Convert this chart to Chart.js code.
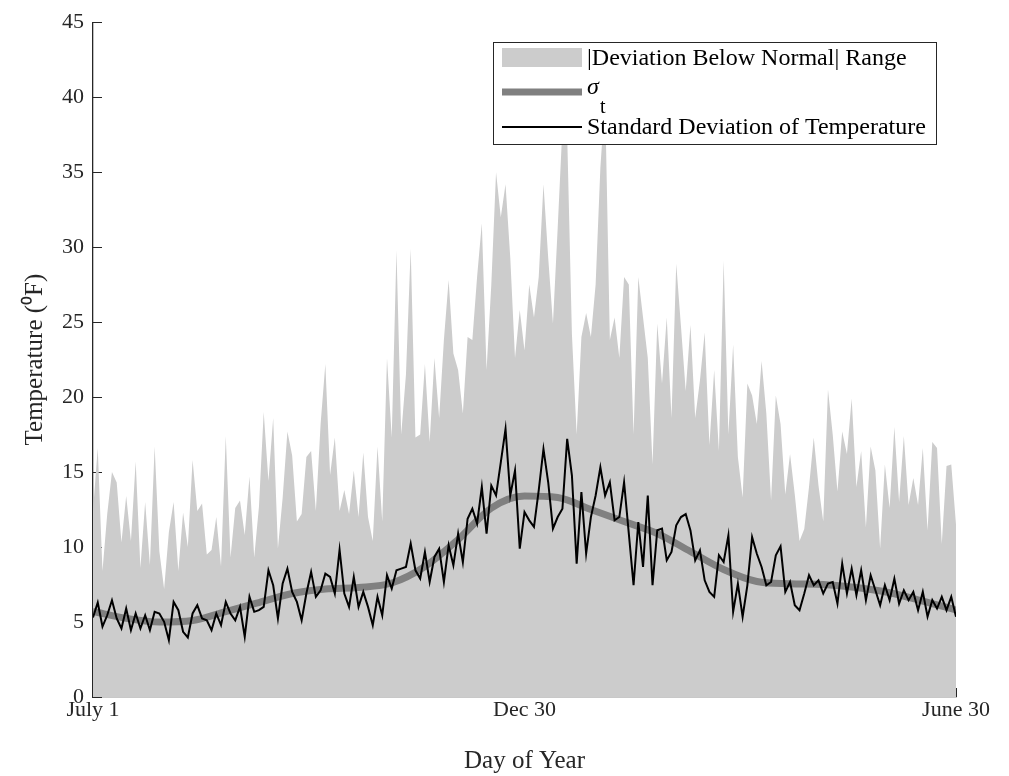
<!DOCTYPE html>
<html>
<head>
<meta charset="utf-8">
<script src="https://cdn.jsdelivr.net/npm/chart.js@4.4.0/dist/chart.umd.min.js"></script>
<style>
  html, body { margin: 0; padding: 0; background: #fff; }
  canvas { display: block; }
</style>
</head>
<body>
<canvas id="chart" width="1009" height="776"></canvas>
<script>
// day 0 = July 1, day 364 = June 30
const xTickDays = [0, 182, 364];
const xTickLabels = ['July 1', 'Dec 30', 'June 30'];
const yTicks = [0, 5, 10, 15, 20, 25, 30, 35, 40, 45];

// |deviation below normal| range, one value every 2 days
const rangeStep = 2;
const rangeVals = [
  12.4, 16.6, 8.4, 12.2, 15.0, 14.3, 10.3, 13.4, 10.4, 15.7,
  8.6, 13.0, 8.8, 16.7, 9.7, 7.2, 11.0, 13.0, 8.4, 12.3,
  10.0, 15.8, 12.4, 12.9, 9.5, 9.8, 12.0, 8.7, 17.4, 9.3,
  12.6, 13.1, 10.8, 14.7, 9.3, 12.7, 19.0, 14.4, 18.6, 9.9,
  13.3, 17.7, 16.1, 11.7, 12.2, 16.0, 16.4, 12.4, 18.2, 22.2,
  14.8, 17.3, 12.4, 13.8, 12.2, 15.1, 12.0, 16.3, 12.0, 10.4,
  16.7, 11.7, 22.6, 17.3, 29.8, 17.5, 21.5, 29.9, 17.3, 17.5,
  22.2, 17.0, 22.6, 18.6, 23.8, 27.8, 22.9, 21.8, 18.9, 24.0,
  23.8, 28.0, 31.6, 21.8, 27.5, 35.0, 32.0, 34.2, 29.3, 22.6,
  25.8, 23.1, 27.5, 25.3, 28.0, 34.2, 29.3, 24.9, 31.3, 38.0,
  37.5, 24.2, 17.5, 24.0, 25.6, 24.0, 27.5, 35.3, 40.0, 23.8,
  25.3, 22.6, 28.0, 27.5, 17.5, 28.0, 25.3, 22.6, 15.5, 24.9,
  20.9, 25.3, 18.6, 28.9, 24.7, 20.4, 24.8, 18.6, 21.1, 24.3,
  16.8, 21.8, 16.4, 29.1, 17.5, 23.5, 16.0, 13.3, 20.9, 20.1,
  18.2, 22.4, 18.9, 13.1, 20.1, 18.2, 13.5, 16.2, 13.5, 10.4,
  11.2, 14.0, 17.3, 14.1, 11.7, 20.5, 17.5, 13.7, 17.7, 16.2,
  19.9, 14.0, 16.4, 11.3, 16.7, 15.1, 9.9, 15.5, 12.6, 18.0,
  13.0, 17.4, 12.8, 14.6, 12.8, 16.6, 11.1, 17.0, 16.6, 10.2,
  15.4, 15.5, 11.5
];

// standard deviation of temperature, every 2 days
const stdStep = 2;
const stdVals = [
  5.3, 6.3, 4.7, 5.45, 6.45, 5.24, 4.57, 5.9, 4.46, 5.57,
  4.57, 5.45, 4.46, 5.68, 5.57, 5.01, 3.79, 6.34, 5.79, 4.35,
  3.97, 5.57, 6.12, 5.24, 5.12, 4.46, 5.57, 4.79, 6.34, 5.57,
  5.12, 6.01, 4.02, 6.68, 5.68, 5.79, 6.01, 8.45, 7.45, 5.24,
  7.57, 8.56, 7.01, 6.34, 5.12, 6.90, 8.34, 6.68, 7.12, 8.23,
  8.01, 6.90, 9.82, 6.90, 6.01, 8.01, 6.01, 7.01, 6.01, 4.79,
  6.68, 5.45, 8.12, 7.23, 8.45, 8.56, 8.67, 10.23, 8.45, 7.90,
  9.67, 7.67, 9.34, 9.89, 7.67, 10.12, 8.78, 10.89, 8.99, 11.89,
  12.55, 11.56, 14.0, 10.89, 14.1, 13.44, 15.65, 17.88, 13.44, 15.1,
  9.89, 12.33, 11.78, 11.34, 13.78, 16.54, 14.32, 11.23, 12.0, 12.55,
  17.21, 14.77, 8.89, 13.66, 9.56, 12.0, 13.44, 15.32, 13.44, 14.32,
  11.78, 12.0, 14.32, 10.89, 7.45, 11.67, 8.67, 13.44, 7.45, 11.12,
  11.23, 9.12, 9.67, 11.45, 12.0, 12.2, 11.11, 9.11, 9.78, 7.78,
  7.01, 6.68, 9.45, 9.0, 10.78, 5.68, 7.56, 5.35, 7.45, 10.66,
  9.55, 8.67, 7.45, 7.67, 9.45, 10.05, 7.01, 7.67, 6.12, 5.79,
  6.90, 8.12, 7.45, 7.78, 6.90, 7.56, 7.67, 6.23, 8.89, 6.90,
  8.56, 6.79, 8.45, 6.46, 8.12, 7.12, 6.12, 7.45, 6.46, 7.89,
  6.23, 7.12, 6.46, 7.01, 5.79, 7.01, 5.35, 6.46, 5.90, 6.68,
  5.79, 6.68, 5.35
];

// smooth sigma_t, every 14 days
const sigmaStep = 14;
const sigmaVals = [
  5.7, 5.25, 5.0, 5.1, 5.7, 6.3, 6.9, 7.2, 7.3, 7.6,
  8.7, 10.5, 12.6, 13.4, 13.3, 12.5, 11.7, 10.9, 9.7, 8.5,
  7.7, 7.55, 7.5, 7.3, 6.95, 6.4, 5.8
];

const toPoints = (vals, step) => vals.map((v, i) => ({ x: i * step, y: v }));

const axisColor = '#262626';
const serif = "'Liberation Serif', 'Times New Roman', serif";
const rangeColor = '#cccccc';
const sigmaColor = '#808080';
const stdColor = '#000000';

// matlab style inward ticks, drawn under the data
const innerTicks = {
  id: 'innerTicks',
  beforeDatasetsDraw(chart) {
    const { ctx, chartArea: a, scales: { x, y } } = chart;
    ctx.save();
    ctx.strokeStyle = axisColor;
    ctx.lineWidth = 1;
    y.ticks.forEach((t) => {
      const py = Math.round(y.getPixelForValue(t.value)) + 0.5;
      ctx.beginPath();
      ctx.moveTo(a.left, py);
      ctx.lineTo(a.left + 9, py);
      ctx.stroke();
    });
    x.ticks.forEach((t) => {
      const px = Math.round(x.getPixelForValue(t.value)) + 0.5;
      ctx.beginPath();
      ctx.moveTo(px, a.bottom);
      ctx.lineTo(px, a.bottom - 9);
      ctx.stroke();
    });
    ctx.restore();
  },
};

// legend box inside the plot, on top of everything
const boxLegend = {
  id: 'boxLegend',
  afterDraw(chart) {
    const ctx = chart.ctx;
    const left = 493.5, top = 42.5, w = 443, h = 102;
    const sx = 502, sw = 80, tx = 587;
    ctx.save();
    ctx.fillStyle = '#ffffff';
    ctx.fillRect(left, top, w, h);
    ctx.strokeStyle = axisColor;
    ctx.lineWidth = 1;
    ctx.strokeRect(left, top, w, h);

    ctx.fillStyle = '#000000';
    ctx.textBaseline = 'middle';
    ctx.font = `24px ${serif}`;

    ctx.fillStyle = rangeColor;
    ctx.fillRect(sx, 48, sw, 19);
    ctx.fillStyle = '#000000';
    ctx.fillText('|Deviation Below Normal| Range', tx, 59);

    ctx.strokeStyle = sigmaColor;
    ctx.lineWidth = 7;
    ctx.beginPath();
    ctx.moveTo(sx, 92);
    ctx.lineTo(sx + sw, 92);
    ctx.stroke();
    ctx.textBaseline = 'alphabetic';
    ctx.font = `italic 24px ${serif}`;
    ctx.fillText('σ', tx, 94);
    ctx.font = `20px ${serif}`;
    ctx.fillText('t', tx + 13, 113);

    ctx.strokeStyle = stdColor;
    ctx.lineWidth = 2;
    ctx.beginPath();
    ctx.moveTo(sx, 127);
    ctx.lineTo(sx + sw, 127);
    ctx.stroke();
    ctx.textBaseline = 'middle';
    ctx.font = `24px ${serif}`;
    ctx.fillText('Standard Deviation of Temperature', tx, 128);
    ctx.restore();
  },
};

new Chart(document.getElementById('chart'), {
  type: 'line',
  data: {
    datasets: [
      {
        label: '|Deviation Below Normal| Range',
        data: toPoints(rangeVals, rangeStep),
        fill: 'origin',
        backgroundColor: rangeColor,
        borderWidth: 0,
        pointRadius: 0,
        tension: 0,
        order: 3,
      },
      {
        label: 'sigma_t',
        data: toPoints(sigmaVals, sigmaStep),
        borderColor: sigmaColor,
        borderWidth: 7,
        pointRadius: 0,
        cubicInterpolationMode: 'monotone',
        fill: false,
        order: 2,
      },
      {
        label: 'Standard Deviation of Temperature',
        data: toPoints(stdVals, stdStep),
        borderColor: stdColor,
        borderWidth: 2,
        pointRadius: 0,
        tension: 0,
        fill: false,
        order: 1,
      },
    ],
  },
  options: {
    responsive: false,
    animation: false,
    layout: { padding: { left: 0, right: 53, top: 20, bottom: 0 } },
    plugins: { legend: { display: false }, tooltip: { enabled: false } },
    scales: {
      x: {
        type: 'linear',
        min: 0,
        max: 364,
        z: 1,
        grid: { display: false, drawTicks: false },
        border: { display: true, color: axisColor, width: 1.3 },
        afterBuildTicks: (s) => { s.ticks = xTickDays.map((d) => ({ value: d })); },
        afterFit: (s) => { s.height = 79; },
        ticks: {
          padding: 0,
          maxRotation: 0,
          color: axisColor,
          font: { family: serif, size: 22 },
          callback: (v) => xTickLabels[xTickDays.indexOf(v)],
        },
        title: {
          display: true,
          text: 'Day of Year',
          color: axisColor,
          font: { family: serif, size: 25 },
          padding: { top: 0, bottom: 0 },
        },
      },
      y: {
        min: 0,
        max: 45,
        z: 1,
        grid: { display: false, drawTicks: false },
        border: { display: true, color: axisColor, width: 1.3 },
        afterBuildTicks: (s) => { s.ticks = yTicks.map((v) => ({ value: v })); },
        afterFit: (s) => { s.width = 93; },
        ticks: {
          padding: 9,
          color: axisColor,
          font: { family: serif, size: 22 },
        },
        title: {
          display: true,
          text: 'Temperature (\u2070F)',
          color: axisColor,
          font: { family: serif, size: 25 },
          padding: { top: 20, bottom: 0 },
        },
      },
    },
  },
  plugins: [innerTicks, boxLegend],
});
</script>
</body>
</html>
